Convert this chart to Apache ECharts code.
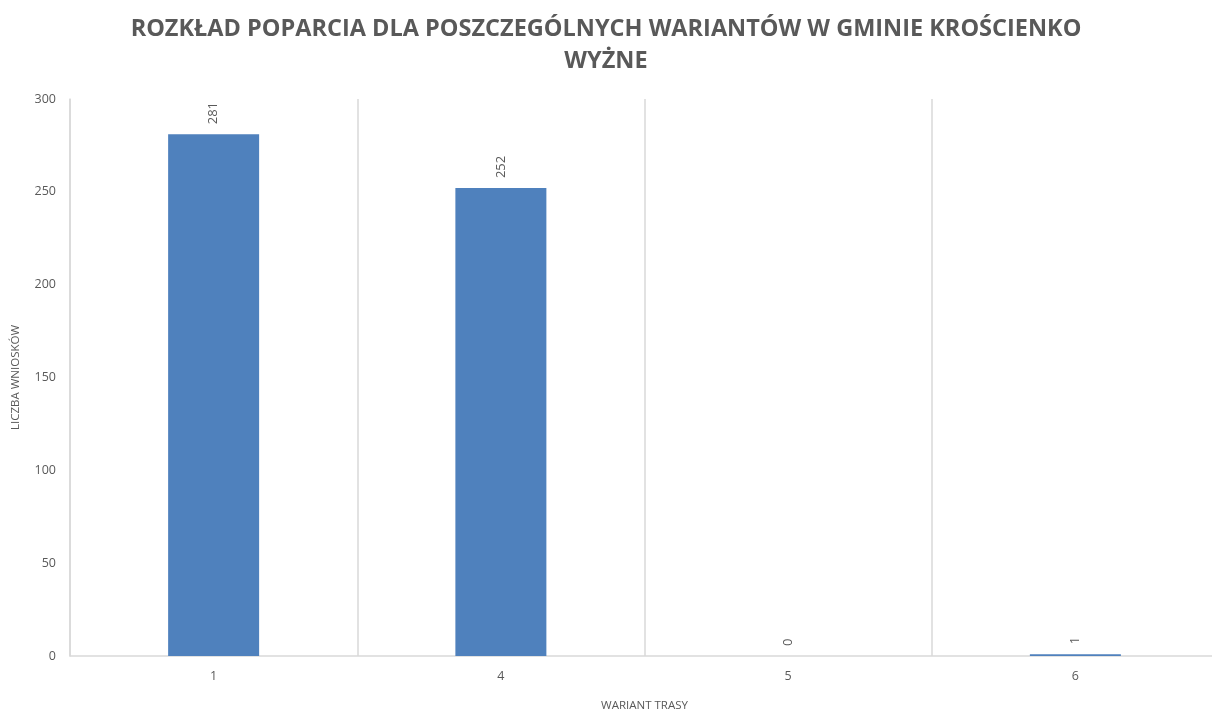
<!DOCTYPE html>
<html>
<head>
<meta charset="utf-8">
<script src="https://cdn.jsdelivr.net/npm/echarts@6/dist/echarts.min.js"></script>
<style>
  html, body { margin: 0; padding: 0; background: #fff; }
  #chart { width: 1212px; height: 709px; }
</style>
</head>
<body>
<div id="chart"></div>
<script>
var warianty = ['1', '4', '5', '6'];
var liczbaWnioskow = [281, 252, 0, 1];
var yTicks = [0, 50, 100, 150, 200, 250, 300];

var szary = '#595959';
var chart = echarts.init(document.getElementById('chart'));
chart.setOption({
    title: {
        text: 'ROZKŁAD POPARCIA DLA POSZCZEGÓLNYCH WARIANTÓW W GMINIE KROŚCIENKO\nWYŻNE',
        left: 'center',
        top: 8,
        textStyle: {
            fontFamily: 'Open Sans',
            fontSize: 23.5,
            fontWeight: 'bold',
            color: szary,
            lineHeight: 32
        }
    },
    grid: {
        left: 70,
        top: 99,
        width: 1149,
        height: 557,
        outerBoundsMode: 'none',
        containLabel: false
    },
    xAxis: {
        type: 'category',
        data: warianty,
        name: 'WARIANT TRASY',
        nameLocation: 'middle',
        nameGap: 44,
        nameTextStyle: { color: szary, fontSize: 11.5, fontFamily: 'Open Sans' },
        axisLine: { lineStyle: { color: '#D9D9D9', width: 1.5 } },
        axisTick: { show: false },
        axisLabel: { color: szary, fontSize: 12.5, margin: 14, fontFamily: 'Open Sans' },
        splitLine: { show: true, lineStyle: { color: '#D9D9D9', width: 1.5 } }
    },
    yAxis: {
        type: 'value',
        min: yTicks[0],
        max: yTicks[yTicks.length - 1],
        interval: 50,
        name: 'LICZBA WNIOSKÓW',
        nameLocation: 'middle',
        nameGap: 48,
        nameTextStyle: { color: szary, fontSize: 11.5, fontFamily: 'Open Sans' },
        axisLine: { show: true, lineStyle: { color: '#D9D9D9', width: 1.5 } },
        axisTick: { show: false },
        axisLabel: { color: szary, fontSize: 12.5, margin: 14, fontFamily: 'Open Sans' },
        splitLine: { show: false }
    },
    series: [{
        type: 'bar',
        data: liczbaWnioskow,
        barWidth: 91,
        itemStyle: { color: '#4F81BD' },
        label: {
            show: true,
            position: 'top',
            rotate: 90,
            align: 'left',
            verticalAlign: 'middle',
            distance: 10,
            color: szary,
            fontSize: 13,
            fontFamily: 'Open Sans'
        }
    }],
    animation: false
});
</script>
</body>
</html>
